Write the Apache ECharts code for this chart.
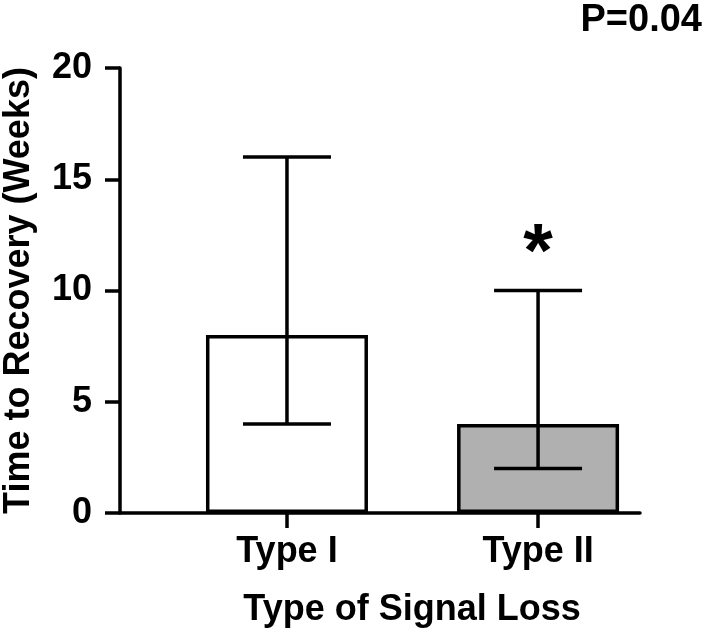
<!DOCTYPE html>
<html>
<head>
<meta charset="utf-8">
<script src="https://cdn.jsdelivr.net/npm/echarts@6/dist/echarts.min.js"></script>
<style>
  html, body { margin: 0; padding: 0; background: #fff; }
  #chart { width: 709px; height: 633px; }
</style>
</head>
<body>
<div id="chart"></div>
<script>
// data
const categories = ["Type I", "Type II"];
const meanValues = [8, 4];
const lowValues = [4, 2];
const highValues = [16, 10];
const barColors = ["#ffffff", "#b0b0b0"];
const starMarks = ["", "*"];
const yTicks = [0, 5, 10, 15, 20];
const pValueText = "P=0.04";

const font = "'Liberation Sans', Arial, sans-serif";
const lineW = 3.5;
const fs = 36;

const myChart = echarts.init(document.getElementById("chart"));

const barData = meanValues.map((v, i) => ({
  value: [i, v],
  itemStyle: { color: barColors[i] }
}));
const errData = categories.map((c, i) => [i, lowValues[i], highValues[i]]);

const option = {
  animation: false,
  backgroundColor: "#fff",
  grid: { left: 120, right: 69, top: 68, bottom: 120, outerBoundsMode: "none" },
  graphic: [{
    type: "text",
    right: 7,
    top: 2,
    style: { text: pValueText, font: "bold 38px " + font, fill: "#000" }
  }],
  xAxis: {
    type: "value",
    // category positions 0 and 1 inside a longer axis line
    min: -0.665,
    max: 1.406,
    name: "Type of Signal Loss",
    nameLocation: "middle",
    nameGap: 79,
    nameTextStyle: {
      fontFamily: font, fontWeight: "bold", fontSize: fs, color: "#000",
      padding: [0, 0, 0, 64]
    },
    axisLine: { onZero: false, lineStyle: { color: "#000", width: lineW } },
    axisTick: { length: 15, lineStyle: { color: "#000", width: lineW }, customValues: [0, 1] },
    axisLabel: {
      customValues: [0, 1],
      margin: 21,
      fontFamily: font, fontWeight: "bold", fontSize: fs, color: "#000",
      formatter: v => categories[v] || ""
    },
    splitLine: { show: false }
  },
  yAxis: {
    type: "value",
    min: 0,
    max: 20,
    interval: 5,
    name: "Time to Recovery (Weeks)",
    nameLocation: "middle",
    nameGap: 83,
    nameTextStyle: { fontFamily: font, fontWeight: "bold", fontSize: fs, color: "#000" },
    axisLine: { show: true, onZero: false, lineStyle: { color: "#000", width: lineW } },
    axisTick: { show: true, length: 15, lineStyle: { color: "#000", width: lineW } },
    axisLabel: {
      margin: 28,
      fontFamily: font, fontWeight: "bold", fontSize: fs, color: "#000",
      formatter: v => (yTicks.indexOf(v) >= 0 ? String(v) : "")
    },
    splitLine: { show: false }
  },
  series: [
    {
      type: "bar",
      barWidth: 162,
      data: barData,
      itemStyle: { borderColor: "#000", borderWidth: lineW },
      z: 2
    },
    {
      type: "custom",
      z: 3,
      data: errData,
      renderItem: (params, api) => {
        const lo = api.coord([api.value(0), api.value(1)]);
        const hi = api.coord([api.value(0), api.value(2)]);
        const cap = 44;
        const st = { stroke: "#000", lineWidth: lineW };
        const children = [
          { type: "line", shape: { x1: lo[0], y1: lo[1], x2: hi[0], y2: hi[1] }, style: st },
          { type: "line", shape: { x1: lo[0] - cap, y1: lo[1], x2: lo[0] + cap, y2: lo[1] }, style: st },
          { type: "line", shape: { x1: hi[0] - cap, y1: hi[1], x2: hi[0] + cap, y2: hi[1] }, style: st }
        ];
        const mark = starMarks[params.dataIndex];
        if (mark) {
          children.push({
            type: "text",
            style: {
              x: hi[0], y: hi[1] + 3,
              text: mark,
              font: "bold 76px " + font,
              fill: "#000",
              align: "center",
              verticalAlign: "bottom"
            }
          });
        }
        return { type: "group", children: children };
      }
    }
  ]
};

myChart.setOption(option);
</script>
</body>
</html>
